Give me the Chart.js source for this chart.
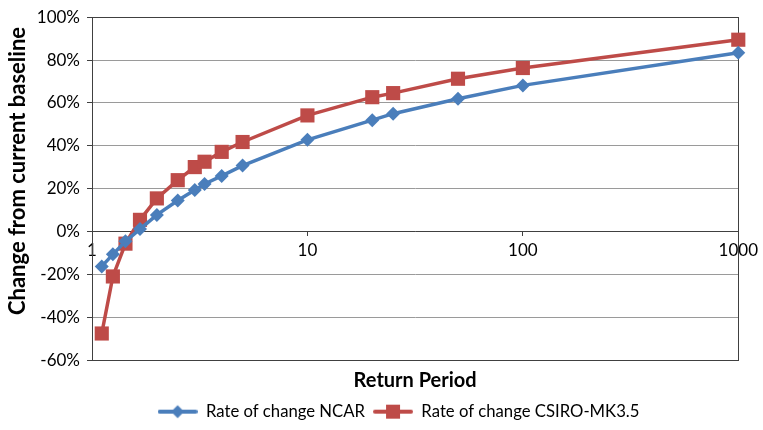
<!DOCTYPE html>
<html>
<head>
<meta charset="utf-8">
<script src="https://cdn.jsdelivr.net/npm/chart.js@4/dist/chart.umd.min.js"></script>
<style>
  html, body { margin: 0; padding: 0; background: #ffffff; }
  #wrap { width: 763px; height: 430px; }
</style>
</head>
<body>
<div id="wrap"><canvas id="chart" width="763" height="430"></canvas></div>
<script>
// Return periods (years) and the projected change in each, in percent
const returnPeriods = [1.11, 1.25, 1.43, 1.67, 2, 2.5, 3, 3.33, 4, 5, 10, 20, 25, 50, 100, 1000];
const ncarChange    = [-16.2, -10.6, -4.5, 1.2, 7.8, 14.5, 19.4, 22.2, 26.0, 30.8, 42.8, 52.0, 55.0, 62.0, 68.2, 83.4];
const csiroChange   = [-47.5, -20.9, -5.6, 5.5, 15.5, 24.0, 30.1, 32.6, 37.2, 41.8, 54.2, 62.7, 64.6, 71.3, 76.3, 89.5];

const seriesNames = ['Rate of change NCAR', 'Rate of change CSIRO-MK3.5'];
const xTickValues = [1, 10, 100, 1000];
const yMin = -60, yMax = 100, yStep = 20;
const xTitle = 'Return Period';
const yTitle = 'Change from current baseline';

const BLUE = '#4A7EBB';
const RED = '#BE4B48';
const AXIS = '#404040';
const GRID = '#9A9A9A';
const FONT = 'Lato, "Liberation Sans", sans-serif';

// Legend swatch: a short line with the series marker in the middle
function swatch(color, marker) {
  const c = document.createElement('canvas');
  c.width = 40; c.height = 16;
  const g = c.getContext('2d');
  g.strokeStyle = color; g.lineWidth = 4; g.lineCap = 'round';
  g.beginPath(); g.moveTo(2, 8); g.lineTo(38, 8); g.stroke();
  g.fillStyle = color;
  g.beginPath();
  if (marker === 'diamond') {
    g.moveTo(20, 1.5); g.lineTo(26.5, 8); g.lineTo(20, 14.5); g.lineTo(13.5, 8);
  } else {
    g.rect(13, 1, 14, 14);
  }
  g.closePath(); g.fill();
  return c;
}
const legendSwatches = [swatch(BLUE, 'diamond'), swatch(RED, 'square')];

// Frame around the plot area, under the series
const plotFrame = {
  id: 'plotFrame',
  beforeDatasetsDraw(chart) {
    const a = chart.chartArea, ctx = chart.ctx;
    ctx.save();
    ctx.strokeStyle = AXIS; ctx.lineWidth = 1;
    ctx.strokeRect(Math.round(a.left) + 0.5, Math.round(a.top) + 0.5,
                   Math.round(a.right - a.left), Math.round(a.bottom - a.top));
    ctx.restore();
  }
};

// Nudge the legend row to the right, under the plot
const legendShift = {
  id: 'legendShift',
  afterLayout(chart) {
    if (chart.legend) { chart.legend.left += 28; chart.legend.right += 28; }
  }
};

// Vertical axis title
const yAxisTitle = {
  id: 'yAxisTitle',
  afterDraw(chart) {
    const ctx = chart.ctx;
    ctx.save();
    ctx.translate(18, 171);
    ctx.rotate(-Math.PI / 2);
    ctx.font = 'bold 22px ' + FONT;
    ctx.fillStyle = '#000';
    ctx.textAlign = 'center';
    ctx.textBaseline = 'middle';
    ctx.fillText(yTitle, 0, 0);
    ctx.restore();
  }
};

new Chart(document.getElementById('chart'), {
  type: 'line',
  data: {
    datasets: [
      {
        label: seriesNames[0],
        data: returnPeriods.map((x, i) => ({ x, y: ncarChange[i] })),
        borderColor: BLUE, backgroundColor: BLUE,
        borderWidth: 3.5, pointStyle: 'rectRot', pointRadius: 7,
        pointBorderWidth: 0, pointBackgroundColor: BLUE,
        tension: 0, clip: false
      },
      {
        label: seriesNames[1],
        data: returnPeriods.map((x, i) => ({ x, y: csiroChange[i] })),
        borderColor: RED, backgroundColor: RED,
        borderWidth: 3.5, pointStyle: 'rect', pointRadius: 10,
        pointBorderWidth: 0, pointBackgroundColor: RED,
        tension: 0, clip: false
      }
    ]
  },
  options: {
    responsive: false,
    animation: false,
    events: [],
    layout: { padding: { left: 0, right: 22, top: 15, bottom: 0 } },
    scales: {
      x: {
        type: 'logarithmic',
        position: { y: 0 },
        min: 1, max: 1000,
        afterBuildTicks: s => { s.ticks = xTickValues.map(v => ({ value: v, major: true })); },
        ticks: {
          callback: v => String(v),
          autoSkip: false, maxRotation: 0,
          padding: 5, color: '#000',
          font: { family: FONT, size: 17 }
        },
        grid: { drawOnChartArea: false, drawTicks: true, tickLength: 4, tickColor: AXIS, lineWidth: 1 },
        border: { display: true, color: AXIS, width: 1 }
      },
      y: {
        type: 'linear',
        min: yMin, max: yMax,
        afterFit: s => { s.width = 92; },
        ticks: {
          stepSize: yStep,
          callback: v => v + '%',
          padding: 7, color: '#000',
          font: { family: FONT, size: 17 }
        },
        grid: { color: GRID, lineWidth: 1, drawTicks: true, tickLength: 5, tickColor: AXIS },
        border: { display: true, color: AXIS, width: 1 }
      }
    },
    plugins: {
      title: {
        display: true, text: xTitle, position: 'bottom', fullSize: false, weight: 500,
        color: '#000', font: { family: FONT, size: 20, weight: 'bold' },
        padding: { top: 8, bottom: 3 }
      },
      legend: {
        display: true, position: 'bottom',
        labels: {
          usePointStyle: true, pointStyleWidth: 40, boxHeight: 16,
          padding: 8, color: '#000',
          font: { family: FONT, size: 16.7 },
          generateLabels: chart => Chart.defaults.plugins.legend.labels.generateLabels(chart)
            .map((l, i) => Object.assign(l, { pointStyle: legendSwatches[i], lineWidth: 0 }))
        }
      },
      tooltip: { enabled: false }
    }
  },
  plugins: [plotFrame, legendShift, yAxisTitle]
});
</script>
</body>
</html>
